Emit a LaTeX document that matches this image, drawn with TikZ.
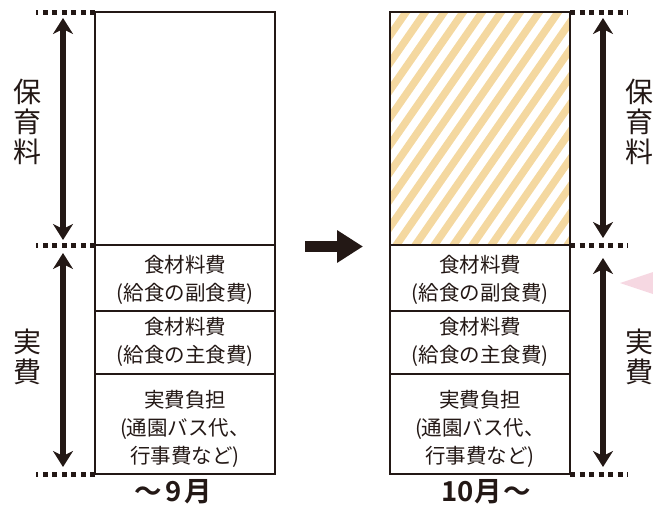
\documentclass[tikz,border=0pt]{standalone}
\usepackage{fontspec}
\setmainfont{Noto Sans CJK JP}[BoldFont={Noto Sans CJK JP Bold}]
\usetikzlibrary{arrows.meta}
\definecolor{inkblack}{RGB}{35,24,21}
\definecolor{hatchorange}{RGB}{244,216,160}
\definecolor{wedgepink}{RGB}{246,216,226}
\tikzset{
  cell/.style={draw, line width=2.3pt, minimum width=180pt, inner sep=0pt, outer sep=0pt},
  celltext/.style={align=center, inner sep=0pt, font=\fontsize{20.5}{28}\selectfont},
  guide/.style={line width=5pt, dash pattern=on 5pt off 4.5pt},
  spanarrow/.style={line width=6pt, {Stealth[length=16pt,width=20pt,inset=5pt]}-{Stealth[length=16pt,width=20pt,inset=5pt]}},
  sidelabel/.style={align=center, inner sep=0pt, font=\fontsize{28}{30}\selectfont},
  month/.style={inner sep=0pt, font=\fontsize{27.5}{28}\selectfont\bfseries}
}
\begin{document}
\begin{tikzpicture}[x=1pt,y=-1pt,color=inkblack]
\useasboundingbox (0,0) rectangle (653,514);
\fill[wedgepink] (620,283) -- (680,263) -- (680,303) -- cycle;
\begin{scope}
	\clip (390,12) rectangle (570,245);
	\foreach \k in {0,...,20} \draw[hatchorange, line width=7.5pt] (222+19*\k,250) -- ++(168,-242);
\end{scope}
\foreach \c/\x in {old/185,new/480}{
	\node[cell, minimum height=233pt] (\c-fee) at (\x,128.5) {};
	\node[cell, minimum height=66pt] (\c-side) at (\x,278) {};
	\node[cell, minimum height=63pt] (\c-main) at (\x,342.5) {};
	\node[cell, minimum height=100pt] (\c-real) at (\x,424) {};
	\node[celltext] (\c-sidetext) at (\x,280) {食材料費\\(給食の副食費)};
	\node[celltext] (\c-maintext) at (\x,341.5) {食材料費\\(給食の主食費)};
	\node[celltext] (\c-realtext) at (\x,428.5) {実費負担\\(通園バス代、\\行事費など)};
}
\draw[guide] (old-fee.north west) -- ++(-59,0);
\draw[guide] (old-side.north west) -- ++(-59,0);
\draw[guide] (old-real.south west) -- ++(-59,0);
\draw[guide] (new-fee.north east) -- ++(58,0);
\draw[guide] (new-side.north east) -- ++(58,0);
\draw[guide] (new-real.south east) -- ++(58,0);
\coordinate (l1) at (63,18); \coordinate (l2) at (63,240);
\coordinate (l3) at (63,253); \coordinate (l4) at (63,467);
\coordinate (r1) at (603,18); \coordinate (r2) at (603,238);
\coordinate (r3) at (603,258); \coordinate (r4) at (603,467);
\draw[spanarrow] (l1) -- (l2);
\draw[spanarrow] (l3) -- (l4);
\draw[spanarrow] (r1) -- (r2);
\draw[spanarrow] (r3) -- (r4);
\node[sidelabel] (old-feelabel) at (27,122) {保\\育\\料};
\node[sidelabel] (old-reallabel) at (27,357) {実\\費};
\node[sidelabel] (new-feelabel) at (639,122) {保\\育\\料};
\node[sidelabel] (new-reallabel) at (639,357) {実\\費};
\coordinate (go1) at (305,246.5); \coordinate (go2) at (363,246.5);
\draw[line width=11pt, -{Triangle[length=26pt,width=31pt]}] (go1) -- (go2);
\node[month] (old-month) at (173,492) {〜\hspace{4pt}9\hspace{2pt}月};
\node[month] (new-month) at (486,492) {10\hspace{1pt}月\hspace{1pt}〜};
\end{tikzpicture}
\end{document}
